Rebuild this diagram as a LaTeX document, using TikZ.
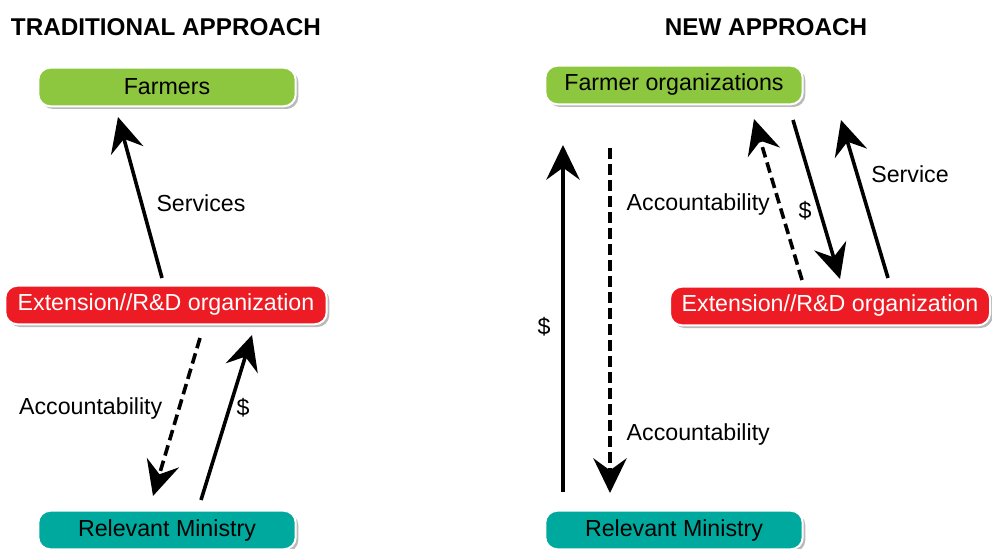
\documentclass[tikz,border=0pt]{standalone}
\usepackage{fontspec}
\setmainfont{Liberation Sans}
\usetikzlibrary{arrows.meta,shadows}
\definecolor{boxgreen}{HTML}{8DC63F}
\definecolor{boxred}{HTML}{ED1C24}
\definecolor{boxteal}{HTML}{00A99D}
\begin{document}
\begin{tikzpicture}[x=0.75pt,y=-0.75pt,
  box/.style={draw=white,line width=1.5pt,rounded corners=9pt,minimum height=29pt,inner sep=0pt,
    font=\fontsize{17.4}{20}\selectfont,
    drop shadow={shadow xshift=2pt,shadow yshift=-2pt,fill=black!45,opacity=0.6}},
  greenbox/.style={box,fill=boxgreen,text=black},
  redbox/.style={box,fill=boxred,text=white},
  tealbox/.style={box,fill=boxteal,text=black},
  title/.style={font=\bfseries\fontsize{18.2}{21}\selectfont},
  lbl/.style={font=\fontsize{17.4}{20}\selectfont},
  conn/.style={line width=2.7pt,-{Stealth[length=26pt,width=25pt,inset=9pt]}},
  dconn/.style={conn,dash pattern=on 8pt off 4pt}
]
\useasboundingbox (0,0) rectangle (992,549);
% titles
\node[title] (t1) at (166,27) {TRADITIONAL APPROACH};
\node[title] (t2) at (766,27) {NEW APPROACH};
% left boxes
\node[greenbox,minimum width=193pt] (farm) at (167,87) {Farmers};
\node[redbox,minimum width=241pt] (extL) at (166,305) {Extension//R\&D organization};
\node[tealbox,minimum width=193pt] (minL) at (167,530) {Relevant Ministry};
% right boxes
\node[greenbox,minimum width=193pt] (forg) at (674,85) {Farmer organizations};
\node[redbox,minimum width=240pt] (extR) at (830,306) {Extension//R\&D organization};
\node[tealbox,minimum width=193pt] (minR) at (674,530) {Relevant Ministry};
% left connectors
\coordinate (a1s) at (162,278); \coordinate (a1e) at (118,117);
\draw[conn] (a1s) -- (a1e);
\node[lbl] (lserv) at (201,203) {Services};
\coordinate (a2s) at (200,338); \coordinate (a2e) at (153,496);
\draw[dconn] (a2s) -- (a2e);
\node[lbl,anchor=east] (lacc1) at (167,408) {Accountability};
\coordinate (a3s) at (201,500); \coordinate (a3e) at (252,335);
\draw[conn] (a3s) -- (a3e);
\node[lbl] (ld1) at (243,408) {\$};
% right connectors
\coordinate (b1s) at (563,492); \coordinate (b1e) at (563,145);
\draw[conn] (b1s) -- (b1e);
\node[lbl] (rd1) at (544,327) {\$};
\coordinate (b2s) at (610,148); \coordinate (b2e) at (610,493);
\draw[dconn] (b2s) -- (b2e);
\node[lbl,anchor=west] (racc1) at (622,205) {Accountability};
\node[lbl,anchor=west] (racc2) at (622,434) {Accountability};
\coordinate (b3s) at (802,280); \coordinate (b3e) at (754,119);
\draw[dconn] (b3s) -- (b3e);
\coordinate (b4s) at (793,120); \coordinate (b4e) at (840,279);
\draw[conn] (b4s) -- (b4e);
\node[lbl] (rd2) at (805,211) {\$};
\coordinate (b5s) at (888,278); \coordinate (b5e) at (841,120);
\draw[conn] (b5s) -- (b5e);
\node[lbl] (rserv) at (910,174) {Service};
\end{tikzpicture}
\end{document}
